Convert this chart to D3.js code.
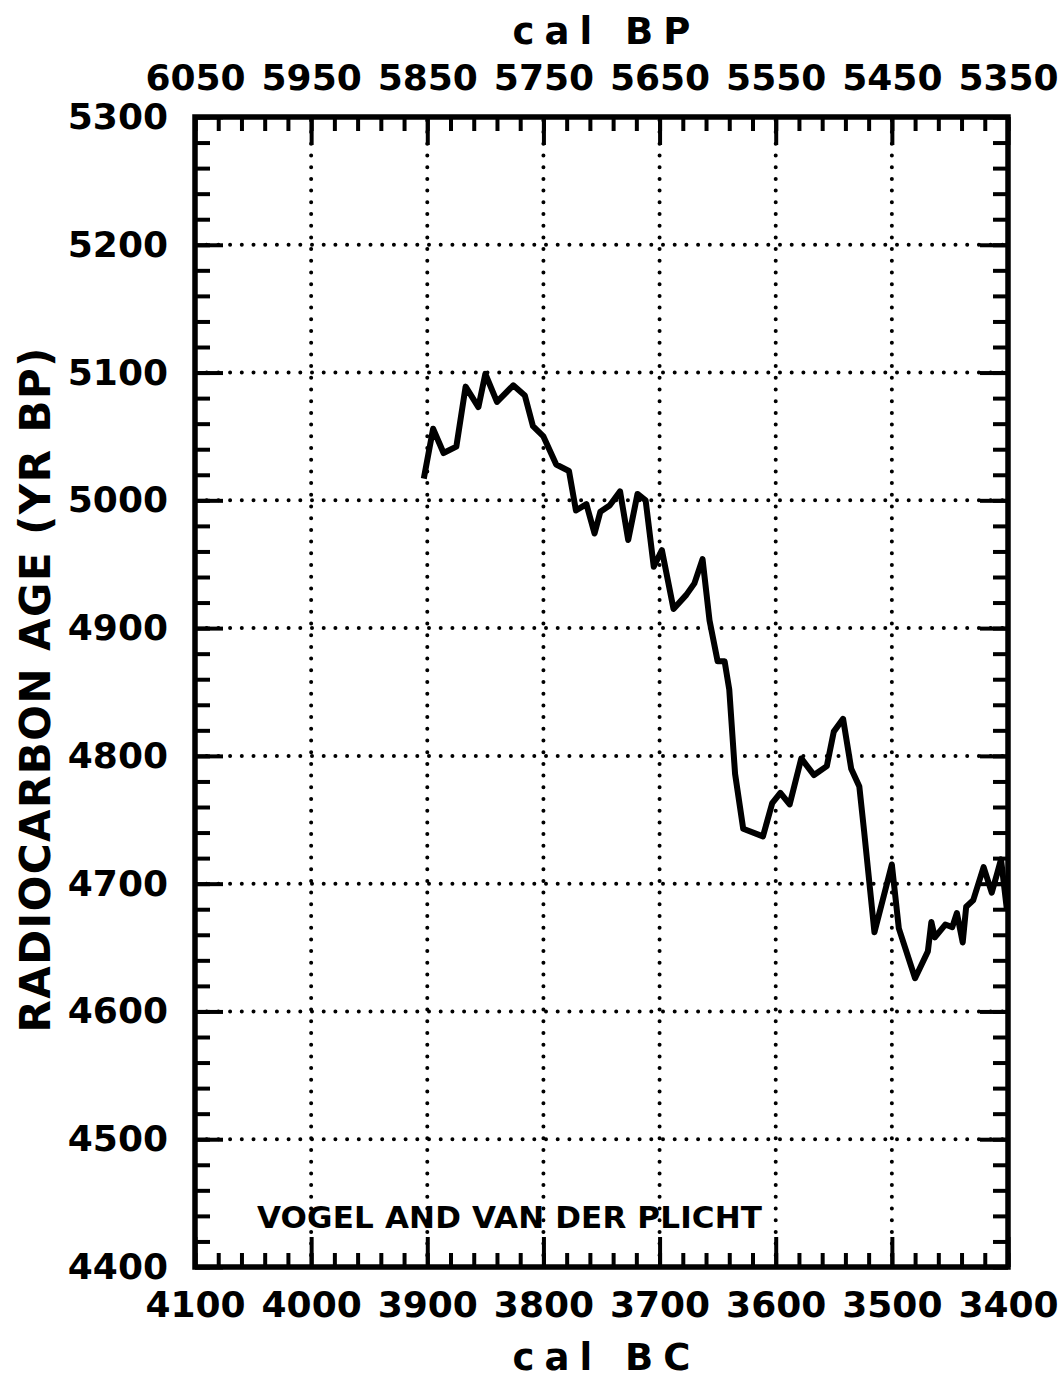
<!DOCTYPE html>
<html>
<head>
<meta charset="utf-8">
<script src="https://cdn.jsdelivr.net/npm/d3@7"></script>
<style>
  body { margin: 0; background: #fff; }
  text { font-family: "DejaVu Sans", sans-serif; font-weight: bold; fill: #000; }
</style>
</head>
<body>
<script>
// calibrated years (cal BC) and radiocarbon ages (yr BP)
var calBC = [3903, 3895, 3886, 3875, 3867, 3856, 3850, 3840, 3826, 3816,
  3809, 3800, 3789, 3778, 3772, 3763, 3756, 3751, 3743, 3734,
  3727, 3719, 3712, 3705, 3698, 3688, 3677, 3670, 3663, 3657,
  3650, 3644, 3640, 3635, 3628, 3611, 3603, 3596, 3588, 3578,
  3567, 3556, 3550, 3542, 3535, 3528, 3524, 3515, 3500, 3494,
  3480, 3469, 3466, 3463, 3454, 3448, 3444, 3439, 3436, 3430,
  3421, 3414, 3409, 3406, 3401];
var c14Age = [5017, 5056, 5037, 5042, 5089, 5073, 5099, 5077, 5090, 5082,
  5058, 5050, 5028, 5023, 4992, 4997, 4974, 4991, 4996, 5007,
  4969, 5005, 5000, 4948, 4961, 4915, 4926, 4935, 4954, 4906,
  4874, 4874, 4852, 4786, 4743, 4737, 4763, 4771, 4762, 4798,
  4785, 4792, 4819, 4829, 4790, 4776, 4742, 4662, 4715, 4665,
  4626, 4647, 4670, 4658, 4668, 4666, 4677, 4654, 4682, 4687,
  4713, 4693, 4709, 4719, 4680];

var bcTicks = [4100, 4000, 3900, 3800, 3700, 3600, 3500, 3400];
var bpTicks = [6050, 5950, 5850, 5750, 5650, 5550, 5450, 5350];
var ageTicks = [4400, 4500, 4600, 4700, 4800, 4900, 5000, 5100, 5200, 5300];

var W = 1060, H = 1378;
var mLeft = 195, mRight = 1008, mTop = 117, mBottom = 1267;

var x = d3.scaleLinear().domain([4100, 3400]).range([mLeft, mRight]);
var xBP = d3.scaleLinear().domain([6050, 5350]).range([mLeft, mRight]);
var y = d3.scaleLinear().domain([4400, 5300]).range([mBottom, mTop]);

var svg = d3.select("body").append("svg")
  .attr("width", W)
  .attr("height", H);

var minorX = d3.range(4100, 3399, -20);
var minorBP = d3.range(6050, 5349, -20);
var minorY = d3.range(4400, 5301, 20);

// dotted grid
var grid = svg.append("g")
  .attr("stroke", "#000")
  .attr("stroke-width", 4)
  .attr("stroke-linecap", "round")
  .attr("stroke-dasharray", "0,11.7");
grid.selectAll(".gx")
  .data(bcTicks.slice(1, -1))
  .enter().append("line")
  .attr("x1", function(d) { return x(d); })
  .attr("x2", function(d) { return x(d); })
  .attr("y1", mBottom)
  .attr("y2", mTop);
grid.selectAll(".gy")
  .data(ageTicks.slice(1, -1))
  .enter().append("line")
  .attr("x1", mLeft)
  .attr("x2", mRight)
  .attr("y1", function(d) { return y(d); })
  .attr("y2", function(d) { return y(d); });

function styleAxis(g) {
  g.select(".domain").remove();
  g.selectAll(".tick line").attr("stroke", "#000").attr("stroke-width", 4);
  g.selectAll("text")
    .attr("font-family", "DejaVu Sans, sans-serif")
    .attr("font-weight", "bold")
    .attr("font-size", 36)
    .attr("fill", "#000");
}

// bottom axis (cal BC)
svg.append("g").attr("transform", "translate(0," + mBottom + ")")
  .call(d3.axisBottom(x).tickValues(minorX).tickSize(-14).tickFormat(""))
  .call(styleAxis);
svg.append("g").attr("transform", "translate(0," + mBottom + ")")
  .call(d3.axisBottom(x).tickValues(bcTicks).tickSize(-30).tickPadding(24).tickFormat(d3.format("d")))
  .call(styleAxis);

// top axis (cal BP)
svg.append("g").attr("transform", "translate(0," + mTop + ")")
  .call(d3.axisTop(xBP).tickValues(minorBP).tickSize(-14).tickFormat(""))
  .call(styleAxis);
svg.append("g").attr("transform", "translate(0," + mTop + ")")
  .call(d3.axisTop(xBP).tickValues(bpTicks).tickSize(-28).tickPadding(27).tickFormat(d3.format("d")))
  .call(styleAxis);

// left axis
svg.append("g").attr("transform", "translate(" + mLeft + ",0)")
  .call(d3.axisLeft(y).tickValues(minorY).tickSize(-15).tickFormat(""))
  .call(styleAxis);
svg.append("g").attr("transform", "translate(" + mLeft + ",0)")
  .call(d3.axisLeft(y).tickValues(ageTicks).tickSize(-28).tickPadding(27).tickFormat(d3.format("d")))
  .call(styleAxis);

// right axis
svg.append("g").attr("transform", "translate(" + mRight + ",0)")
  .call(d3.axisRight(y).tickValues(minorY).tickSize(-15).tickFormat(""))
  .call(styleAxis);
svg.append("g").attr("transform", "translate(" + mRight + ",0)")
  .call(d3.axisRight(y).tickValues(ageTicks).tickSize(-28).tickFormat(""))
  .call(styleAxis);

// frame
svg.append("rect")
  .attr("x", mLeft).attr("y", mTop)
  .attr("width", mRight - mLeft).attr("height", mBottom - mTop)
  .attr("fill", "none")
  .attr("stroke", "#000")
  .attr("stroke-width", 5.5);

// calibration curve
var pts = calBC.map(function(d, i) { return [d, c14Age[i]]; });
svg.append("path")
  .datum(pts)
  .attr("fill", "none")
  .attr("stroke", "#000")
  .attr("stroke-width", 6)
  .attr("stroke-linejoin", "round")
  .attr("d", d3.line().x(function(d) { return x(d[0]); }).y(function(d) { return y(d[1]); }));

// titles
svg.append("text")
  .attr("x", (mLeft + mRight) / 2 + 5).attr("y", 44)
  .attr("text-anchor", "middle")
  .attr("font-family", "DejaVu Sans Mono, monospace")
  .attr("font-size", 37)
  .attr("letter-spacing", 10)
  .text("cal BP");

svg.append("text")
  .attr("x", (mLeft + mRight) / 2 + 5).attr("y", 1370)
  .attr("text-anchor", "middle")
  .attr("font-family", "DejaVu Sans Mono, monospace")
  .attr("font-size", 37)
  .attr("letter-spacing", 10)
  .text("cal BC");

svg.append("text")
  .attr("transform", "translate(50," + ((mTop + mBottom) / 2 - 2) + ") rotate(-90)")
  .attr("text-anchor", "middle")
  .attr("font-size", 42)
  .attr("textLength", 685).attr("lengthAdjust", "spacing")
  .text("RADIOCARBON AGE (YR BP)");

svg.append("text")
  .attr("x", 257).attr("y", 1228)
  .attr("font-size", 31)
  .attr("textLength", 505).attr("lengthAdjust", "spacing")
  .text("VOGEL AND VAN DER PLICHT");
</script>
</body>
</html>
